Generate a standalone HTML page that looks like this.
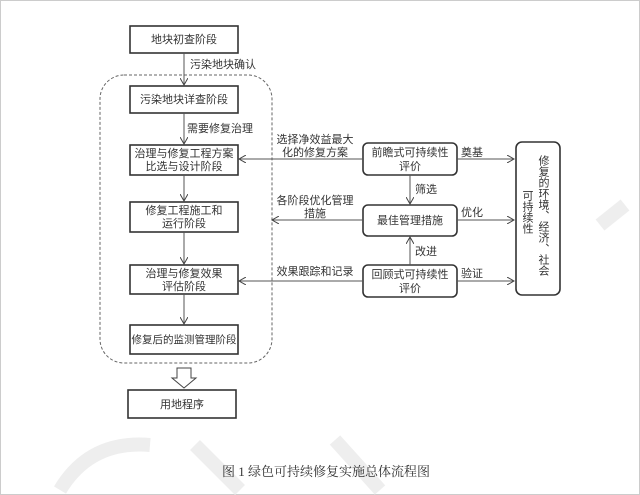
<!DOCTYPE html>
<html><head><meta charset="utf-8"><style>
html,body{margin:0;padding:0;background:#fff}
svg{display:block}
text{font-family:"Liberation Sans","Noto Sans CJK SC",sans-serif;fill:#333;font-size:11px}
</style></head><body>
<svg width="640" height="495" viewBox="0 0 640 495" xmlns="http://www.w3.org/2000/svg">
<defs><marker id="a" markerWidth="8" markerHeight="8" refX="7" refY="4" orient="auto" markerUnits="userSpaceOnUse"><path d="M0,0 L7,4 L0,8" fill="none" stroke="#444" stroke-width="1"/></marker></defs>
<rect x="0.5" y="0.5" width="639" height="494" fill="none" stroke="#ccc"/>
<g stroke="#eee" stroke-width="14" fill="none">
<path d="M60,490 Q90,440 150,445"/>
<path d="M195,445 L240,490"/>
<path d="M335,440 L380,490"/>
<path d="M600,225 L625,205"/>
</g>
<rect x="100" y="75" width="172" height="288" rx="24" fill="none" stroke="#666" stroke-dasharray="3,2"/>
<g fill="#fff" stroke="#333" stroke-width="1.6">
<rect x="130" y="26" width="108" height="27"/>
<rect x="130" y="86" width="108" height="27"/>
<rect x="130" y="145" width="108" height="30"/>
<rect x="130" y="202" width="108" height="30"/>
<rect x="130" y="265" width="108" height="29"/>
<rect x="130" y="325" width="108" height="29"/>
<rect x="128" y="390" width="108" height="28"/>
<rect x="363" y="143" width="94" height="32" rx="5"/>
<rect x="363" y="205" width="94" height="31" rx="5"/>
<rect x="363" y="265" width="94" height="32" rx="5"/>
<rect x="516" y="142" width="44" height="153" rx="6"/>
</g>
<g stroke="#555" stroke-width="1" marker-end="url(#a)">
<line x1="184" y1="53" x2="184" y2="85"/>
<line x1="184" y1="113" x2="184" y2="144"/>
<line x1="184" y1="175" x2="184" y2="201"/>
<line x1="184" y1="232" x2="184" y2="264"/>
<line x1="184" y1="294" x2="184" y2="324"/>
<line x1="363" y1="159" x2="239" y2="159"/>
<line x1="363" y1="220" x2="272" y2="220"/>
<line x1="363" y1="281" x2="239" y2="281"/>
<line x1="457" y1="159" x2="514" y2="159"/>
<line x1="457" y1="220" x2="514" y2="220"/>
<line x1="457" y1="281" x2="514" y2="281"/>
<line x1="410" y1="175" x2="410" y2="204"/>
<line x1="410" y1="265" x2="410" y2="237"/>
</g>
<path d="M177,368 L191,368 L191,378 L196,378 L184,388 L172,378 L177,378 Z" fill="#fff" stroke="#444"/>
<g text-anchor="middle">
<text x="184" y="43">地块初查阶段</text>
<text x="184" y="103">污染地块详查阶段</text>
<text x="184" y="157">治理与修复工程方案</text>
<text x="184" y="170">比选与设计阶段</text>
<text x="184" y="214">修复工程施工和</text>
<text x="184" y="227">运行阶段</text>
<text x="184" y="277">治理与修复效果</text>
<text x="184" y="290">评估阶段</text>
<text x="184" y="343" style="font-size:10.5px">修复后的监测管理阶段</text>
<text x="182" y="408">用地程序</text>
<text x="410" y="156">前瞻式可持续性</text>
<text x="410" y="170">评价</text>
<text x="410" y="224">最佳管理措施</text>
<text x="410" y="278">回顾式可持续性</text>
<text x="410" y="292">评价</text>
<text x="315" y="143">选择净效益最大</text>
<text x="315" y="156">化的修复方案</text>
<text x="315" y="204">各阶段优化管理</text>
<text x="315" y="217">措施</text>
<text x="315" y="275">效果跟踪和记录</text>
</g>
<text x="190" y="68">污染地块确认</text>
<text x="187" y="132">需要修复治理</text>
<text x="461" y="156">奠基</text>
<text x="415" y="193">筛选</text>
<text x="461" y="216">优化</text>
<text x="415" y="255">改进</text>
<text x="461" y="277">验证</text>
<text x="543" y="155" writing-mode="tb" style="writing-mode:vertical-rl" text-anchor="start">修复的环境、经济、社会</text>
<text x="527" y="190" writing-mode="tb" style="writing-mode:vertical-rl" text-anchor="start">可持续性</text>
<text x="326" y="476" text-anchor="middle" style="font-family:'Liberation Serif','Noto Serif CJK SC',serif;font-size:13px">图 1  绿色可持续修复实施总体流程图</text>
</svg>
</body></html>
